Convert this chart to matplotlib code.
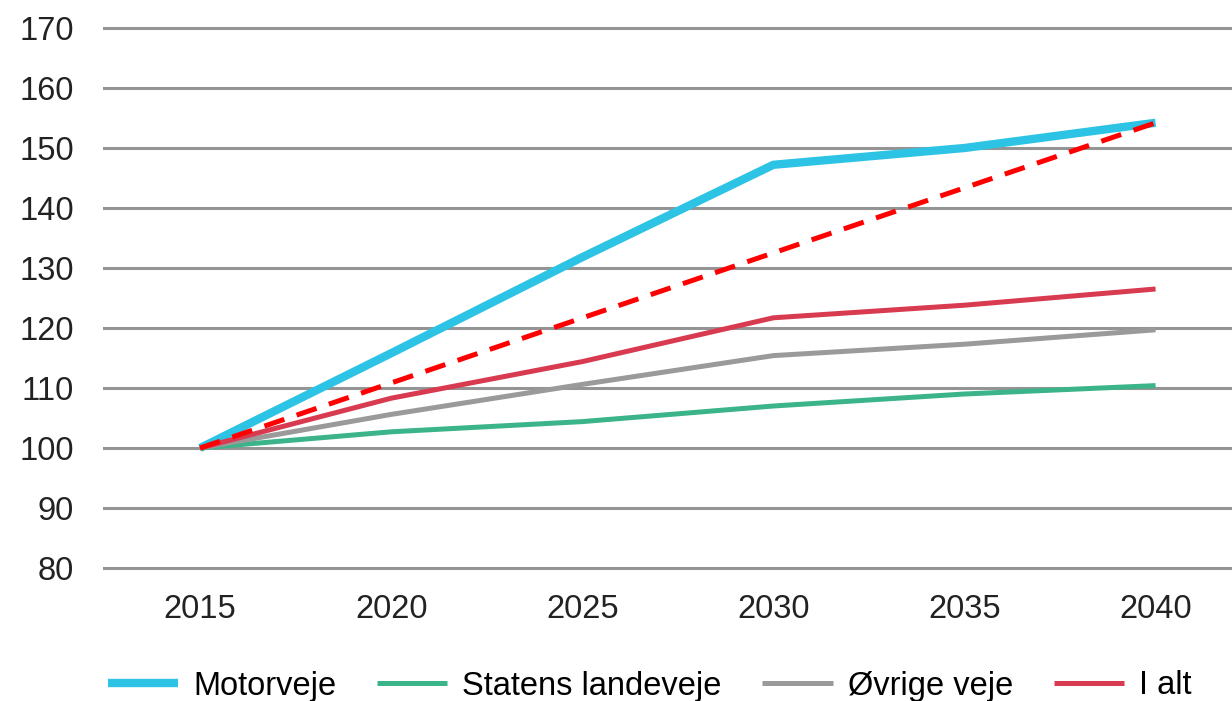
import numpy as np
import matplotlib.pyplot as plt

# Index 2015 = 100
years = [2015, 2020, 2025, 2030, 2035, 2040]
motorveje = [100, 115.8, 131.8, 147.2, 150.0, 154.2]
statens_landeveje = [100, 102.7, 104.4, 107.0, 109.0, 110.4]
oevrige_veje = [100, 105.6, 110.6, 115.4, 117.3, 119.7]
i_alt = [100, 108.3, 114.4, 121.7, 123.8, 126.5]
trend_years = [2015, 2040]
trend_values = [100, 154.2]

plt.rcParams["font.family"] = ["Liberation Sans", "DejaVu Sans"]

fig = plt.figure(figsize=(12.32, 7.01), dpi=100)
ax = fig.add_axes([103 / 1232, 1 - 576 / 701, 1 - 103 / 1232, 556 / 701])

ax.plot(years, motorveje, color="#2cc3e4", lw=6, solid_capstyle="butt", label="Motorveje", zorder=3)
ax.plot(years, statens_landeveje, color="#3bb48a", lw=3.6, solid_capstyle="butt", label="Statens landeveje", zorder=3)
ax.plot(years, oevrige_veje, color="#9a9a9a", lw=3.6, solid_capstyle="butt", label="Øvrige veje", zorder=3)
ax.plot(years, i_alt, color="#d83a50", lw=3.6, solid_capstyle="butt", label="I alt", zorder=4)
ax.plot(trend_years, trend_values, color="#ff0000", lw=3.6, dashes=(4.2, 2.6), zorder=5)

ax.set_xlim(2012.46, 2042.0)
ax.set_ylim(78.67, 171.33)
ax.set_yticks(np.arange(80, 171, 10))
ax.set_xticks(years)
ax.grid(axis="y", color="#949494", lw=2.2)
ax.set_axisbelow(True)
for s in ax.spines.values():
    s.set_visible(False)
ax.tick_params(axis="both", length=0, labelsize=23.5, colors="#222222")
ax.tick_params(axis="y", pad=21)
ax.tick_params(axis="x", pad=13)

fig.legend(loc="center left", bbox_to_anchor=(108 / 1232, 1 - 686 / 701), ncol=4,
           frameon=False, fontsize=23.5, handlelength=2.15, handletextpad=0.46,
           columnspacing=1.25, borderpad=0, borderaxespad=0)

fig.savefig("out.png", dpi=100)
